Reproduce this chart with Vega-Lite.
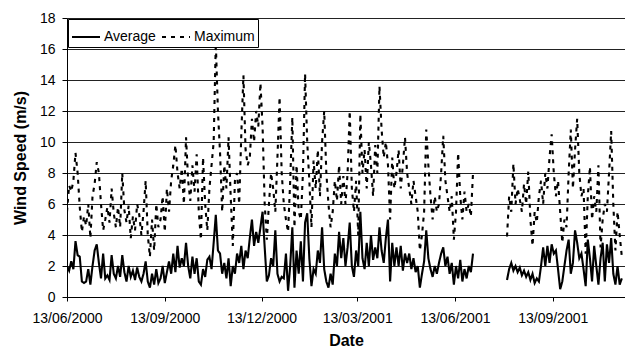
{
  "$schema": "https://vega.github.io/schema/vega-lite/v6.json",
  "width": 558,
  "height": 279,
  "autosize": {"type": "none"},
  "padding": {"left": 67, "top": 18, "right": 0, "bottom": 50},
  "background": "white",
  "config": {
    "view": {"stroke": null},
    "font": "Liberation Sans",
    "axis": {"labelFont": "Liberation Sans", "titleFont": "Liberation Sans", "labelColor": "black", "titleColor": "black", "domainColor": "black", "tickColor": "black", "gridColor": "#222222", "gridOpacity": 1, "gridWidth": 1, "domainWidth": 1, "tickWidth": 1}
  },
  "data": {"values": [
    {"date":"2000-06-13","Average":2.0,"Maximum":5.5,"period":1},
    {"date":"2000-06-15","Average":1.7,"Maximum":7.2,"period":1},
    {"date":"2000-06-17","Average":2.3,"Maximum":6.8,"period":1},
    {"date":"2000-06-19","Average":1.8,"Maximum":7.5,"period":1},
    {"date":"2000-06-21","Average":3.6,"Maximum":9.3,"period":1},
    {"date":"2000-06-23","Average":2.7,"Maximum":8.0,"period":1},
    {"date":"2000-06-25","Average":2.6,"Maximum":5.8,"period":1},
    {"date":"2000-06-27","Average":1.0,"Maximum":4.2,"period":1},
    {"date":"2000-06-29","Average":0.9,"Maximum":5.2,"period":1},
    {"date":"2000-07-01","Average":1.0,"Maximum":4.6,"period":1},
    {"date":"2000-07-03","Average":1.8,"Maximum":6.0,"period":1},
    {"date":"2000-07-05","Average":0.8,"Maximum":3.8,"period":1},
    {"date":"2000-07-07","Average":2.0,"Maximum":6.5,"period":1},
    {"date":"2000-07-09","Average":3.0,"Maximum":7.3,"period":1},
    {"date":"2000-07-11","Average":3.4,"Maximum":8.7,"period":1},
    {"date":"2000-07-13","Average":2.2,"Maximum":8.0,"period":1},
    {"date":"2000-07-15","Average":1.2,"Maximum":6.0,"period":1},
    {"date":"2000-07-17","Average":2.8,"Maximum":4.3,"period":1},
    {"date":"2000-07-19","Average":1.2,"Maximum":5.0,"period":1},
    {"date":"2000-07-21","Average":1.4,"Maximum":5.8,"period":1},
    {"date":"2000-07-23","Average":1.1,"Maximum":4.8,"period":1},
    {"date":"2000-07-25","Average":2.7,"Maximum":7.0,"period":1},
    {"date":"2000-07-27","Average":1.5,"Maximum":5.4,"period":1},
    {"date":"2000-07-29","Average":1.2,"Maximum":4.5,"period":1},
    {"date":"2000-07-31","Average":2.0,"Maximum":5.8,"period":1},
    {"date":"2000-08-02","Average":1.3,"Maximum":4.5,"period":1},
    {"date":"2000-08-04","Average":2.7,"Maximum":8.0,"period":1},
    {"date":"2000-08-06","Average":1.6,"Maximum":5.6,"period":1},
    {"date":"2000-08-08","Average":1.0,"Maximum":4.8,"period":1},
    {"date":"2000-08-10","Average":2.0,"Maximum":5.9,"period":1},
    {"date":"2000-08-12","Average":1.3,"Maximum":3.8,"period":1},
    {"date":"2000-08-14","Average":1.7,"Maximum":5.2,"period":1},
    {"date":"2000-08-16","Average":1.1,"Maximum":4.3,"period":1},
    {"date":"2000-08-18","Average":1.9,"Maximum":6.0,"period":1},
    {"date":"2000-08-20","Average":1.3,"Maximum":5.3,"period":1},
    {"date":"2000-08-22","Average":1.0,"Maximum":4.0,"period":1},
    {"date":"2000-08-24","Average":1.5,"Maximum":5.5,"period":1},
    {"date":"2000-08-26","Average":2.3,"Maximum":7.5,"period":1},
    {"date":"2000-08-28","Average":1.0,"Maximum":4.0,"period":1},
    {"date":"2000-08-30","Average":0.6,"Maximum":2.6,"period":1},
    {"date":"2000-09-01","Average":1.5,"Maximum":5.0,"period":1},
    {"date":"2000-09-03","Average":0.8,"Maximum":3.0,"period":1},
    {"date":"2000-09-05","Average":1.8,"Maximum":6.0,"period":1},
    {"date":"2000-09-07","Average":0.9,"Maximum":4.5,"period":1},
    {"date":"2000-09-09","Average":1.2,"Maximum":5.0,"period":1},
    {"date":"2000-09-11","Average":2.0,"Maximum":6.5,"period":1},
    {"date":"2000-09-13","Average":0.9,"Maximum":4.2,"period":1},
    {"date":"2000-09-15","Average":1.6,"Maximum":7.0,"period":1},
    {"date":"2000-09-17","Average":2.3,"Maximum":5.5,"period":1},
    {"date":"2000-09-19","Average":1.5,"Maximum":7.5,"period":1},
    {"date":"2000-09-21","Average":2.8,"Maximum":8.5,"period":1},
    {"date":"2000-09-23","Average":1.6,"Maximum":9.8,"period":1},
    {"date":"2000-09-25","Average":3.3,"Maximum":8.0,"period":1},
    {"date":"2000-09-27","Average":1.9,"Maximum":7.0,"period":1},
    {"date":"2000-09-29","Average":2.5,"Maximum":8.3,"period":1},
    {"date":"2000-10-01","Average":2.0,"Maximum":6.0,"period":1},
    {"date":"2000-10-03","Average":3.5,"Maximum":10.3,"period":1},
    {"date":"2000-10-05","Average":2.0,"Maximum":7.5,"period":1},
    {"date":"2000-10-07","Average":1.2,"Maximum":6.2,"period":1},
    {"date":"2000-10-09","Average":2.6,"Maximum":8.5,"period":1},
    {"date":"2000-10-11","Average":1.5,"Maximum":6.8,"period":1},
    {"date":"2000-10-13","Average":2.5,"Maximum":9.2,"period":1},
    {"date":"2000-10-15","Average":1.0,"Maximum":5.5,"period":1},
    {"date":"2000-10-17","Average":0.8,"Maximum":3.7,"period":1},
    {"date":"2000-10-19","Average":1.8,"Maximum":9.0,"period":1},
    {"date":"2000-10-21","Average":1.3,"Maximum":6.0,"period":1},
    {"date":"2000-10-23","Average":2.4,"Maximum":4.3,"period":1},
    {"date":"2000-10-25","Average":2.6,"Maximum":7.0,"period":1},
    {"date":"2000-10-27","Average":1.8,"Maximum":8.5,"period":1},
    {"date":"2000-10-29","Average":3.5,"Maximum":10.0,"period":1},
    {"date":"2000-10-31","Average":5.3,"Maximum":16.4,"period":1},
    {"date":"2000-11-02","Average":3.0,"Maximum":12.0,"period":1},
    {"date":"2000-11-04","Average":2.8,"Maximum":9.3,"period":1},
    {"date":"2000-11-06","Average":1.5,"Maximum":5.5,"period":1},
    {"date":"2000-11-08","Average":2.2,"Maximum":8.5,"period":1},
    {"date":"2000-11-10","Average":1.2,"Maximum":7.0,"period":1},
    {"date":"2000-11-12","Average":2.5,"Maximum":10.3,"period":1},
    {"date":"2000-11-14","Average":0.7,"Maximum":6.5,"period":1},
    {"date":"2000-11-16","Average":2.0,"Maximum":3.3,"period":1},
    {"date":"2000-11-18","Average":1.5,"Maximum":7.5,"period":1},
    {"date":"2000-11-20","Average":2.8,"Maximum":8.0,"period":1},
    {"date":"2000-11-22","Average":2.2,"Maximum":6.0,"period":1},
    {"date":"2000-11-24","Average":3.3,"Maximum":10.5,"period":1},
    {"date":"2000-11-26","Average":1.8,"Maximum":14.3,"period":1},
    {"date":"2000-11-28","Average":3.0,"Maximum":9.5,"period":1},
    {"date":"2000-11-30","Average":2.5,"Maximum":8.5,"period":1},
    {"date":"2000-12-02","Average":3.8,"Maximum":9.0,"period":1},
    {"date":"2000-12-04","Average":5.0,"Maximum":11.5,"period":1},
    {"date":"2000-12-06","Average":3.3,"Maximum":10.0,"period":1},
    {"date":"2000-12-08","Average":4.2,"Maximum":12.0,"period":1},
    {"date":"2000-12-10","Average":3.5,"Maximum":11.0,"period":1},
    {"date":"2000-12-12","Average":4.5,"Maximum":13.8,"period":1},
    {"date":"2000-12-14","Average":5.5,"Maximum":11.0,"period":1},
    {"date":"2000-12-16","Average":3.2,"Maximum":6.0,"period":1},
    {"date":"2000-12-18","Average":1.0,"Maximum":3.7,"period":1},
    {"date":"2000-12-20","Average":1.4,"Maximum":6.0,"period":1},
    {"date":"2000-12-22","Average":2.5,"Maximum":8.0,"period":1},
    {"date":"2000-12-24","Average":2.0,"Maximum":7.0,"period":1},
    {"date":"2000-12-26","Average":4.3,"Maximum":5.5,"period":1},
    {"date":"2000-12-28","Average":1.5,"Maximum":9.0,"period":1},
    {"date":"2000-12-30","Average":1.0,"Maximum":12.9,"period":1},
    {"date":"2001-01-01","Average":1.3,"Maximum":8.0,"period":1},
    {"date":"2001-01-03","Average":1.2,"Maximum":6.0,"period":1},
    {"date":"2001-01-05","Average":2.8,"Maximum":5.0,"period":1},
    {"date":"2001-01-07","Average":0.4,"Maximum":4.2,"period":1},
    {"date":"2001-01-09","Average":2.0,"Maximum":7.5,"period":1},
    {"date":"2001-01-11","Average":4.5,"Maximum":11.6,"period":1},
    {"date":"2001-01-13","Average":0.6,"Maximum":4.5,"period":1},
    {"date":"2001-01-15","Average":3.0,"Maximum":8.5,"period":1},
    {"date":"2001-01-17","Average":1.5,"Maximum":5.5,"period":1},
    {"date":"2001-01-19","Average":3.6,"Maximum":5.0,"period":1},
    {"date":"2001-01-21","Average":1.0,"Maximum":8.0,"period":1},
    {"date":"2001-01-23","Average":4.8,"Maximum":14.4,"period":1},
    {"date":"2001-01-25","Average":5.4,"Maximum":10.0,"period":1},
    {"date":"2001-01-27","Average":2.5,"Maximum":7.5,"period":1},
    {"date":"2001-01-29","Average":0.7,"Maximum":4.5,"period":1},
    {"date":"2001-01-31","Average":1.8,"Maximum":8.8,"period":1},
    {"date":"2001-02-02","Average":1.5,"Maximum":7.0,"period":1},
    {"date":"2001-02-04","Average":3.0,"Maximum":9.5,"period":1},
    {"date":"2001-02-06","Average":2.2,"Maximum":6.5,"period":1},
    {"date":"2001-02-08","Average":4.5,"Maximum":10.0,"period":1},
    {"date":"2001-02-10","Average":1.8,"Maximum":12.0,"period":1},
    {"date":"2001-02-12","Average":1.0,"Maximum":8.0,"period":1},
    {"date":"2001-02-14","Average":0.6,"Maximum":6.0,"period":1},
    {"date":"2001-02-16","Average":1.5,"Maximum":4.5,"period":1},
    {"date":"2001-02-18","Average":0.8,"Maximum":5.5,"period":1},
    {"date":"2001-02-20","Average":2.8,"Maximum":7.5,"period":1},
    {"date":"2001-02-22","Average":2.0,"Maximum":6.2,"period":1},
    {"date":"2001-02-24","Average":4.2,"Maximum":8.5,"period":1},
    {"date":"2001-02-26","Average":2.5,"Maximum":6.0,"period":1},
    {"date":"2001-02-28","Average":3.8,"Maximum":7.8,"period":1},
    {"date":"2001-03-02","Average":2.0,"Maximum":6.0,"period":1},
    {"date":"2001-03-04","Average":3.2,"Maximum":8.0,"period":1},
    {"date":"2001-03-06","Average":4.8,"Maximum":12.0,"period":1},
    {"date":"2001-03-08","Average":2.0,"Maximum":7.0,"period":1},
    {"date":"2001-03-10","Average":1.3,"Maximum":5.5,"period":1},
    {"date":"2001-03-12","Average":3.0,"Maximum":7.5,"period":1},
    {"date":"2001-03-14","Average":2.0,"Maximum":4.0,"period":1},
    {"date":"2001-03-16","Average":5.5,"Maximum":11.8,"period":1},
    {"date":"2001-03-18","Average":2.5,"Maximum":8.0,"period":1},
    {"date":"2001-03-20","Average":1.8,"Maximum":9.5,"period":1},
    {"date":"2001-03-22","Average":3.5,"Maximum":7.0,"period":1},
    {"date":"2001-03-24","Average":2.0,"Maximum":10.0,"period":1},
    {"date":"2001-03-26","Average":4.0,"Maximum":8.5,"period":1},
    {"date":"2001-03-28","Average":2.4,"Maximum":6.5,"period":1},
    {"date":"2001-03-30","Average":3.2,"Maximum":9.8,"period":1},
    {"date":"2001-04-01","Average":2.5,"Maximum":8.0,"period":1},
    {"date":"2001-04-03","Average":4.5,"Maximum":13.6,"period":1},
    {"date":"2001-04-05","Average":3.0,"Maximum":10.8,"period":1},
    {"date":"2001-04-07","Average":2.2,"Maximum":9.0,"period":1},
    {"date":"2001-04-09","Average":3.8,"Maximum":10.0,"period":1},
    {"date":"2001-04-11","Average":5.0,"Maximum":8.5,"period":1},
    {"date":"2001-04-13","Average":1.0,"Maximum":5.0,"period":1},
    {"date":"2001-04-15","Average":3.5,"Maximum":9.0,"period":1},
    {"date":"2001-04-17","Average":2.0,"Maximum":7.0,"period":1},
    {"date":"2001-04-19","Average":3.2,"Maximum":8.0,"period":1},
    {"date":"2001-04-21","Average":2.0,"Maximum":9.5,"period":1},
    {"date":"2001-04-23","Average":3.3,"Maximum":7.0,"period":1},
    {"date":"2001-04-25","Average":1.7,"Maximum":8.5,"period":1},
    {"date":"2001-04-27","Average":2.8,"Maximum":10.3,"period":1},
    {"date":"2001-04-29","Average":2.2,"Maximum":8.0,"period":1},
    {"date":"2001-05-01","Average":2.8,"Maximum":7.0,"period":1},
    {"date":"2001-05-03","Average":1.8,"Maximum":6.0,"period":1},
    {"date":"2001-05-05","Average":2.5,"Maximum":7.5,"period":1},
    {"date":"2001-05-07","Average":1.6,"Maximum":6.5,"period":1},
    {"date":"2001-05-09","Average":2.0,"Maximum":5.5,"period":1},
    {"date":"2001-05-11","Average":0.6,"Maximum":3.0,"period":1},
    {"date":"2001-05-13","Average":1.5,"Maximum":4.0,"period":1},
    {"date":"2001-05-15","Average":2.3,"Maximum":5.5,"period":1},
    {"date":"2001-05-17","Average":4.3,"Maximum":10.8,"period":1},
    {"date":"2001-05-19","Average":2.5,"Maximum":8.5,"period":1},
    {"date":"2001-05-21","Average":1.8,"Maximum":6.5,"period":1},
    {"date":"2001-05-23","Average":1.3,"Maximum":5.0,"period":1},
    {"date":"2001-05-25","Average":2.0,"Maximum":6.5,"period":1},
    {"date":"2001-05-27","Average":1.5,"Maximum":5.5,"period":1},
    {"date":"2001-05-29","Average":2.2,"Maximum":6.0,"period":1},
    {"date":"2001-05-31","Average":2.8,"Maximum":8.0,"period":1},
    {"date":"2001-06-02","Average":3.2,"Maximum":10.4,"period":1},
    {"date":"2001-06-04","Average":2.0,"Maximum":7.5,"period":1},
    {"date":"2001-06-06","Average":2.6,"Maximum":6.5,"period":1},
    {"date":"2001-06-08","Average":1.5,"Maximum":5.5,"period":1},
    {"date":"2001-06-10","Average":2.2,"Maximum":6.5,"period":1},
    {"date":"2001-06-12","Average":0.8,"Maximum":3.7,"period":1},
    {"date":"2001-06-14","Average":2.0,"Maximum":5.5,"period":1},
    {"date":"2001-06-16","Average":1.2,"Maximum":9.3,"period":1},
    {"date":"2001-06-18","Average":2.4,"Maximum":6.5,"period":1},
    {"date":"2001-06-20","Average":1.0,"Maximum":5.0,"period":1},
    {"date":"2001-06-22","Average":1.8,"Maximum":6.8,"period":1},
    {"date":"2001-06-24","Average":1.2,"Maximum":5.5,"period":1},
    {"date":"2001-06-26","Average":2.0,"Maximum":6.0,"period":1},
    {"date":"2001-06-28","Average":1.6,"Maximum":5.2,"period":1},
    {"date":"2001-06-30","Average":2.8,"Maximum":8.0,"period":1},
    {"date":"2001-08-01","Average":1.1,"Maximum":3.9,"period":2},
    {"date":"2001-08-03","Average":1.8,"Maximum":6.5,"period":2},
    {"date":"2001-08-05","Average":2.2,"Maximum":5.5,"period":2},
    {"date":"2001-08-07","Average":1.7,"Maximum":8.6,"period":2},
    {"date":"2001-08-09","Average":2.0,"Maximum":6.0,"period":2},
    {"date":"2001-08-11","Average":1.6,"Maximum":7.0,"period":2},
    {"date":"2001-08-13","Average":1.9,"Maximum":6.3,"period":2},
    {"date":"2001-08-15","Average":1.4,"Maximum":5.5,"period":2},
    {"date":"2001-08-17","Average":1.7,"Maximum":7.3,"period":2},
    {"date":"2001-08-19","Average":1.3,"Maximum":6.0,"period":2},
    {"date":"2001-08-21","Average":1.6,"Maximum":8.1,"period":2},
    {"date":"2001-08-23","Average":1.1,"Maximum":5.0,"period":2},
    {"date":"2001-08-25","Average":1.5,"Maximum":3.3,"period":2},
    {"date":"2001-08-27","Average":0.9,"Maximum":5.5,"period":2},
    {"date":"2001-08-29","Average":1.2,"Maximum":4.8,"period":2},
    {"date":"2001-08-31","Average":1.0,"Maximum":6.5,"period":2},
    {"date":"2001-09-02","Average":2.0,"Maximum":7.5,"period":2},
    {"date":"2001-09-04","Average":3.2,"Maximum":6.0,"period":2},
    {"date":"2001-09-06","Average":2.0,"Maximum":8.0,"period":2},
    {"date":"2001-09-08","Average":3.3,"Maximum":7.0,"period":2},
    {"date":"2001-09-10","Average":2.2,"Maximum":9.0,"period":2},
    {"date":"2001-09-12","Average":3.4,"Maximum":10.5,"period":2},
    {"date":"2001-09-14","Average":2.8,"Maximum":8.0,"period":2},
    {"date":"2001-09-16","Average":3.0,"Maximum":6.5,"period":2},
    {"date":"2001-09-18","Average":1.8,"Maximum":7.5,"period":2},
    {"date":"2001-09-20","Average":0.5,"Maximum":5.5,"period":2},
    {"date":"2001-09-22","Average":1.0,"Maximum":3.5,"period":2},
    {"date":"2001-09-24","Average":2.0,"Maximum":5.0,"period":2},
    {"date":"2001-09-26","Average":3.0,"Maximum":4.5,"period":2},
    {"date":"2001-09-28","Average":3.7,"Maximum":8.0,"period":2},
    {"date":"2001-09-30","Average":1.5,"Maximum":10.8,"period":2},
    {"date":"2001-10-02","Average":2.2,"Maximum":7.0,"period":2},
    {"date":"2001-10-04","Average":4.3,"Maximum":9.5,"period":2},
    {"date":"2001-10-06","Average":3.5,"Maximum":11.5,"period":2},
    {"date":"2001-10-08","Average":2.5,"Maximum":8.0,"period":2},
    {"date":"2001-10-10","Average":2.8,"Maximum":6.5,"period":2},
    {"date":"2001-10-12","Average":1.8,"Maximum":7.0,"period":2},
    {"date":"2001-10-14","Average":0.7,"Maximum":2.8,"period":2},
    {"date":"2001-10-16","Average":3.7,"Maximum":6.5,"period":2},
    {"date":"2001-10-18","Average":2.5,"Maximum":8.4,"period":2},
    {"date":"2001-10-20","Average":1.0,"Maximum":5.0,"period":2},
    {"date":"2001-10-22","Average":3.3,"Maximum":6.5,"period":2},
    {"date":"2001-10-24","Average":2.0,"Maximum":5.5,"period":2},
    {"date":"2001-10-26","Average":0.8,"Maximum":8.5,"period":2},
    {"date":"2001-10-28","Average":2.5,"Maximum":3.2,"period":2},
    {"date":"2001-10-30","Average":3.5,"Maximum":5.0,"period":2},
    {"date":"2001-11-01","Average":1.0,"Maximum":6.0,"period":2},
    {"date":"2001-11-03","Average":3.4,"Maximum":5.5,"period":2},
    {"date":"2001-11-05","Average":2.2,"Maximum":8.0,"period":2},
    {"date":"2001-11-07","Average":3.8,"Maximum":10.7,"period":2},
    {"date":"2001-11-09","Average":1.5,"Maximum":6.0,"period":2},
    {"date":"2001-11-11","Average":0.8,"Maximum":3.0,"period":2},
    {"date":"2001-11-13","Average":2.0,"Maximum":5.5,"period":2},
    {"date":"2001-11-15","Average":0.8,"Maximum":4.0,"period":2},
    {"date":"2001-11-17","Average":1.2,"Maximum":2.6,"period":2}
  ]},
  "transform": [
    {"fold": ["Average", "Maximum"], "as": ["series", "speed"]}
  ],
  "mark": {"type": "line", "color": "black", "strokeWidth": 2.1, "clip": true},
  "encoding": {
    "x": {
      "field": "date", "type": "temporal",
      "scale": {"type": "utc", "domain": [{"year": 2000, "month": 6, "date": 13, "utc": true}, {"year": 2001, "month": 11, "date": 20, "utc": true}]},
      "axis": {
        "values": [
          {"year": 2000, "month": 6, "date": 13, "utc": true},
          {"year": 2000, "month": 9, "date": 13, "utc": true},
          {"year": 2000, "month": 12, "date": 13, "utc": true},
          {"year": 2001, "month": 3, "date": 13, "utc": true},
          {"year": 2001, "month": 6, "date": 13, "utc": true},
          {"year": 2001, "month": 9, "date": 13, "utc": true}
        ],
        "labelExpr": "utcFormat(datum.value, '%d/%m/%Y')",
        "grid": false, "tickSize": 4, "labelPadding": 10, "labelFontSize": 14, "labelFlush": false, "labelOverlap": false,
        "title": "Date", "titleFontSize": 16, "titleFontWeight": "bold", "titleY": 43, "titleBaseline": "middle"
      }
    },
    "y": {
      "field": "speed", "type": "quantitative",
      "scale": {"domain": [0, 18], "nice": false},
      "axis": {
        "values": [0, 2, 4, 6, 8, 10, 12, 14, 16, 18],
        "grid": true, "tickSize": 5, "labelPadding": 7, "labelFontSize": 14,
        "title": "Wind Speed (m/s)", "titleFontSize": 16, "titleFontWeight": "bold", "titleX": -47, "titleBaseline": "middle"
      }
    },
    "strokeDash": {
      "field": "series", "type": "nominal",
      "scale": {"domain": ["Average", "Maximum"], "range": [[1, 0], [4, 5]]},
      "legend": {
        "title": null, "orient": "top-left", "direction": "horizontal", "offset": 1,
        "strokeColor": "black", "fillColor": "white", "padding": 3,
        "labelFontSize": 14, "labelFont": "Liberation Sans", "labelColor": "black",
        "symbolType": "stroke", "symbolSize": 784, "symbolStrokeWidth": 2, "symbolStrokeColor": "black",
        "labelOffset": 3, "columnPadding": 2
      }
    },
    "detail": {"field": "period", "type": "nominal"}
  }
}
